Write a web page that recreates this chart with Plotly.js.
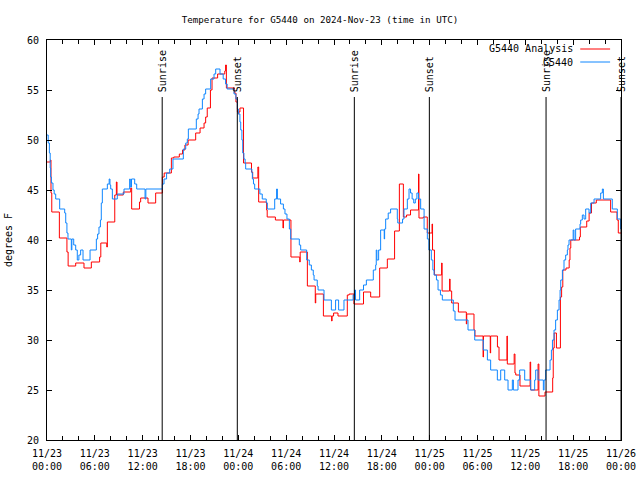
<!DOCTYPE html>
<html>
<head>
<meta charset="utf-8">
<script src="https://cdn.plot.ly/plotly-3.0.1.min.js"></script>
<style>html,body{margin:0;padding:0;background:#fff;}#chart{width:640px;height:480px;}</style>
</head>
<body>
<div id="chart"></div>
<script>
// Hours since 2024-11-23 00:00 UTC
const analysisName = 'G5440 Analysis';
const analysisHours = [0,0.42,0.5,0.6,1.55,2.5,2.65,3.6,4.64,5.56,6.6,6.75,7.5,7.57,8.5,8.7,8.78,9.57,10.5,10.62,11.6,11.75,12.67,13.63,14.47,14.7,15.6,15.9,16.6,17.0,17.3,17.7,18.65,19.2,19.7,19.9,20.1,20.5,20.7,21.4,22.3,22.4,22.5,23.5,23.7,23.88,24.0,24.05,24.2,24.65,25.65,25.8,26.45,26.55,27.55,27.62,28.65,29.6,29.66,30.6,31.7,31.76,32.66,33.65,33.71,34.67,35.7,35.76,35.95,36.5,37.67,37.9,38.5,39.7,40.6,41.73,42.69,43.6,44.2,44.7,45.1,45.6,46.6,46.66,47.2,47.7,48.3,48.36,48.6,49.5,49.56,50.5,50.56,50.76,51.6,52.6,52.65,53.56,53.68,54.7,54.75,55.6,55.65,56.5,56.7,57.7,57.74,58.6,58.7,58.8,59.33,60.6,60.67,61.6,61.7,62.47,63.43,63.5,63.62,63.9,64.4,64.55,64.7,65.1,65.5,65.6,65.7,66.8,66.9,67.7,68.0,68.3,68.9,70.7,71.5,71.66,72.0];
const analysisTemps = [47.8,48.0,44.7,42.8,40.2,38.8,37.4,37.7,37.2,37.8,38.3,39.7,39.3,41.8,44.5,45.8,44.5,44.8,45.2,43.1,43.8,44.2,43.7,44.7,46.3,46.7,48.2,48.3,48.6,49.0,49.5,50.0,50.7,51.2,51.7,52.3,53.2,55.0,56.2,56.6,56.9,57.5,55.2,54.7,53.8,52.8,52.6,52.8,53.2,47.7,46.8,46.2,47.3,43.8,43.0,42.3,42.0,41.2,42.0,38.3,37.8,38.8,35.4,33.7,34.6,32.4,31.9,32.4,32.7,32.4,34.5,34.6,33.6,34.8,34.3,37.2,38.1,40.9,45.6,42.3,42.5,43.0,46.6,42.2,42.3,40.7,41.6,39.0,36.5,37.7,34.9,36.1,34.9,33.7,32.8,31.6,32.6,31.0,30.4,28.3,30.4,28.7,30.4,29.3,28.0,30.4,27.6,28.6,26.7,26.5,25.4,27.8,25.0,27.6,24.4,24.8,26.2,29.2,30.7,29.2,34.3,35.3,37.0,37.2,38.0,39.2,40.0,40.3,41.3,41.9,42.7,43.7,44.0,42.8,42.0,40.7,40.7];

const obsName = 'G5440';
const obsHours = [0,0.15,0.3,0.4,0.46,0.55,0.75,0.9,1.09,1.59,2.22,2.35,2.5,2.63,3.05,3.12,3.35,3.6,3.8,4.0,4.22,4.52,5.4,6.19,6.35,6.52,6.7,6.81,6.94,7.57,7.8,7.9,7.99,8.2,8.82,9.66,10.37,10.45,10.6,11.0,11.25,12.3,12.4,14.47,14.68,15.0,15.39,15.8,17.1,17.4,17.6,17.73,18.73,18.95,19.07,19.49,19.7,19.9,20.53,20.95,21.16,21.7,22.1,22.4,22.6,23.46,23.7,23.88,24.0,24.2,24.3,24.45,24.55,24.7,24.85,24.92,25.7,25.76,25.9,26.05,26.7,27.0,27.5,27.64,28.56,28.8,28.9,29.3,29.65,29.85,30.1,30.4,30.57,31.65,31.82,32.57,32.9,33.16,33.4,33.5,33.9,34.0,34.75,35.67,36.2,36.58,37.25,38.4,38.6,38.7,39.22,39.7,40.06,40.93,41.23,41.3,41.38,41.6,41.85,42.3,42.35,42.48,42.8,43.1,43.94,44.0,44.6,44.78,45.2,45.41,45.6,45.8,46.0,46.2,46.4,46.6,46.87,47.3,47.71,47.9,48.21,48.4,48.55,48.85,49.05,49.35,49.59,50.97,51.18,52.81,53.65,54.73,55.24,55.65,56.49,56.91,57.41,57.83,58.37,58.5,59.08,59.29,59.92,60.67,61.17,61.3,61.59,62.26,62.35,62.55,63.1,63.27,63.4,63.6,63.8,64.02,64.23,64.36,64.44,64.65,64.85,65.06,65.27,65.35,65.48,66.0,66.1,66.31,66.86,66.94,67.15,67.36,67.57,67.99,68.2,68.62,69.45,69.66,69.79,70.91,71.54,71.96,72.0];
const obsTemps = [50.5,49.7,48.7,47.2,46.3,45.7,45.0,44.6,44.1,43.1,42.7,41.7,40.7,40.1,39.0,40.1,39.5,39.0,38.0,38.5,39.0,38.0,39.0,40.1,40.6,41.3,42.0,43.7,45.1,45.6,46.1,45.5,45.1,44.1,44.6,45.1,46.1,45.3,46.1,45.6,45.1,44.1,45.1,45.6,46.1,46.7,47.1,48.1,49.1,49.7,50.1,51.1,52.1,52.6,53.1,54.1,54.6,55.1,56.1,56.6,57.1,56.6,56.1,55.6,55.1,54.6,54.1,53.1,52.6,51.8,51.0,50.0,48.7,48.1,47.7,47.1,46.7,46.1,45.6,45.1,44.6,44.1,43.7,43.1,44.1,45.1,44.1,43.6,43.1,42.6,42.1,41.1,40.1,39.5,39.0,38.0,37.5,37.0,36.5,36.0,35.4,35.0,34.0,33.0,34.0,33.0,34.0,34.5,35.0,34.0,35.0,35.5,36.0,37.0,37.5,39.0,38.0,39.0,41.0,40.1,41.1,42.1,42.7,43.1,42.1,41.7,42.1,43.1,44.1,45.1,44.7,44.1,43.7,44.1,44.7,44.1,43.1,41.1,40.1,39.0,38.0,37.0,36.5,36.0,35.0,34.5,34.0,32.9,32.0,31.0,30.0,29.0,28.0,27.0,26.0,27.0,26.0,25.0,26.0,25.0,26.0,27.0,26.0,25.0,26.0,27.0,26.0,25.0,26.0,27.0,28.0,29.0,30.0,31.0,32.0,33.0,34.0,35.0,36.0,37.0,38.0,38.5,39.0,39.5,40.0,41.0,40.0,41.1,41.6,42.0,42.5,42.1,43.1,42.7,43.7,44.1,44.7,45.1,44.1,43.1,42.1,41.1,41.1];

const sunHours = [14.45, 23.87, 38.55, 47.96, 62.6, 72.0];
const sunLabels = ['Sunrise','Sunset','Sunrise','Sunset','Sunrise','Sunset'];

const xTickHours = [0,6,12,18,24,30,36,42,48,54,60,66,72];
const xTickLabels = ['11/23<br>00:00','11/23<br>06:00','11/23<br>12:00','11/23<br>18:00','11/24<br>00:00','11/24<br>06:00','11/24<br>12:00','11/24<br>18:00','11/25<br>00:00','11/25<br>06:00','11/25<br>12:00','11/25<br>18:00','11/26<br>00:00'];
const yTicks = [20,25,30,35,40,45,50,55,60];

const titleText = 'Temperature for G5440 on 2024-Nov-23 (time in UTC)';
const yTitle = 'degrees F';

const BASE = Date.UTC(2024, 10, 23, 0, 0, 0);
function toDate(h) {
  return new Date(BASE + Math.round(h * 3600000)).toISOString().slice(0, 19).replace('T', ' ');
}

const FONT = 'DejaVu Sans Mono, monospace';
const redColor = '#ff0000';
const blueColor = '#0f86ff';

const traces = [
  {x: analysisHours.map(toDate), y: analysisTemps, name: analysisName, type: 'scatter', mode: 'lines',
   line: {shape: 'hv', color: redColor, width: 1}},
  {x: obsHours.map(toDate), y: obsTemps, name: obsName, type: 'scatter', mode: 'lines',
   line: {shape: 'hv', color: blueColor, width: 1}}
];

const shapes = sunHours.map(h => ({type: 'line', xref: 'x', yref: 'y', x0: toDate(h), x1: toDate(h), y0: 20, y1: 54.3,
  line: {color: '#000', width: 1}}));
const annotations = sunHours.map((h, i) => ({xref: 'x', yref: 'y', x: toDate(h), y: 54.7, text: sunLabels[i],
  textangle: -90, showarrow: false, xanchor: 'center', yanchor: 'bottom', borderpad: 0,
  font: {family: FONT, size: 10, color: '#000'}}));

// manual legend (gnuplot style: text then sample line)
const legendEntries = [[analysisName, redColor, 0.9775], [obsName, blueColor, 0.945]];
legendEntries.forEach(([name, color, yp]) => {
  annotations.push({xref: 'paper', yref: 'paper', x: 0.92, y: yp, text: name, showarrow: false,
    xanchor: 'right', yanchor: 'middle', font: {family: FONT, size: 10, color: '#000'}});
  shapes.push({type: 'line', xref: 'paper', yref: 'paper', x0: 0.929, x1: 0.981, y0: yp, y1: yp,
    line: {color: color, width: 1}});
});

const layout = {
  width: 640, height: 480,
  margin: {l: 47, r: 19, t: 40, b: 40},
  paper_bgcolor: '#fff', plot_bgcolor: '#fff',
  showlegend: false,
  font: {family: FONT, size: 10, color: '#000'},
  title: {text: titleText, x: 0.5, xanchor: 'center', y: 0.958, yanchor: 'middle', font: {family: FONT, size: 9.2, color: '#000'}},
  xaxis: {
    type: 'date', range: [toDate(0), toDate(72)],
    tickvals: xTickHours.map(toDate), ticktext: xTickLabels,
    ticks: 'inside', ticklen: 5, tickcolor: '#000', tickwidth: 1,
    minor: {dtick: 2 * 3600000, ticks: 'inside', ticklen: 4, tickcolor: '#000', showgrid: false},
    showline: true, linecolor: '#000', linewidth: 1, mirror: 'allticks',
    showgrid: false, zeroline: false, ticklabelstandoff: 4,
    tickfont: {family: FONT, size: 10, color: '#000'}
  },
  yaxis: {
    range: [20, 60], tickvals: yTicks,
    ticks: 'inside', ticklen: 5, tickcolor: '#000', tickwidth: 1,
    showline: true, linecolor: '#000', linewidth: 1, mirror: 'allticks',
    showgrid: false, zeroline: false, ticklabelstandoff: 5,
    title: {text: yTitle, font: {family: FONT, size: 10, color: '#000'}, standoff: 12},
    tickfont: {family: FONT, size: 10, color: '#000'}
  },
  shapes: shapes,
  annotations: annotations
};

Plotly.newPlot('chart', traces, layout, {displayModeBar: false, staticPlot: true});
</script>
</body>
</html>
